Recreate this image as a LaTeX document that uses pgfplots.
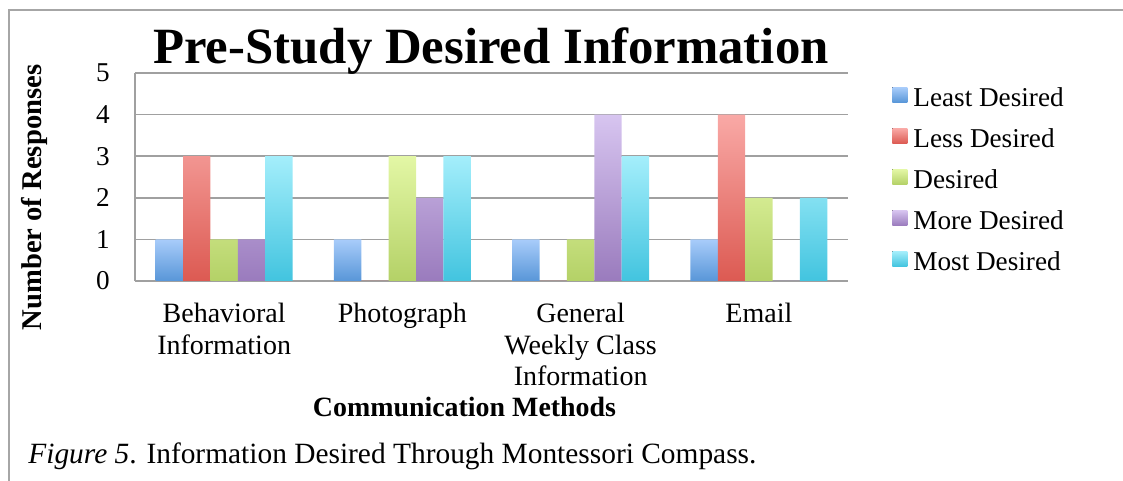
\documentclass[border=0pt]{standalone}
\usepackage{fontspec}
\setmainfont{Liberation Serif}
\usepackage{pgfplots}
\pgfplotsset{compat=1.18}
\definecolor{framegray}{HTML}{A6A6A6}
\definecolor{gridgray}{HTML}{A0A0A0}
\definecolor{bluetop}{HTML}{A8CCFA}\definecolor{bluebot}{HTML}{5896D8}
\definecolor{redtop}{HTML}{F9A9A6}\definecolor{redbot}{HTML}{DC5A52}
\definecolor{greentop}{HTML}{E3F7A5}\definecolor{greenbot}{HTML}{B4D167}
\definecolor{purtop}{HTML}{D7C5F0}\definecolor{purbot}{HTML}{9A7BBD}
\definecolor{cyantop}{HTML}{A4EEFB}\definecolor{cyanbot}{HTML}{42C4DF}
\begin{document}
\begin{tikzpicture}
\useasboundingbox (0,0) rectangle (561.5pt,240.5pt);
\draw[framegray, line width=0.8pt] (4.5pt,0) -- (4.5pt,235.5pt) -- (561.5pt,235.5pt);
\begin{axis}[
  at={(67.5pt,100pt)}, anchor=south west, scale only axis,
  width=356.5pt, height=104pt,
  xmin=-0.5, xmax=3.5, ymin=0, ymax=5,
  ybar=0pt, bar width=13.7pt,
  xtick={0,1,2,3},
  xticklabels={{Behavioral\\Information},{Photograph},{General\\Weekly Class\\Information},{Email}},
  ytick={0,1,2,3,4,5},
  axis x line*=bottom, axis y line*=left,
  axis line style={gridgray, line width=0.75pt, -},
  ymajorgrids, grid style={gridgray, line width=0.75pt},
  major tick length=0pt,
  /pgf/number format/assume math mode=true,
  yticklabel style={font=\fontsize{13.6}{16}\selectfont, anchor=east, inner sep=0pt, xshift=-12.5pt},
  xticklabel style={font=\fontsize{14}{15.75}\selectfont, align=center, anchor=north, inner sep=0pt, yshift=-11pt},
  legend cell align=left,
  legend style={at={(1.0617,0.9327)}, anchor=north west, draw=none, fill=none,
    font=\fontsize{13.6}{16}\selectfont, inner sep=0pt, row sep=8pt, column sep=3pt,
    nodes={inner sep=0pt, text height=9.5pt, text depth=3pt}},
  legend image code/.code={\fill[#1] (0pt,-1.25pt) rectangle (7.5pt,6.25pt);},
]
\addplot[draw=none, top color=bluetop, bottom color=bluebot] coordinates {(0,1) (1,1) (2,1) (3,1)};
\addplot[draw=none, top color=redtop, bottom color=redbot] coordinates {(0,3) (1,0) (2,0) (3,4)};
\addplot[draw=none, top color=greentop, bottom color=greenbot] coordinates {(0,1) (1,3) (2,1) (3,2)};
\addplot[draw=none, top color=purtop, bottom color=purbot] coordinates {(0,1) (1,2) (2,4) (3,0)};
\addplot[draw=none, top color=cyantop, bottom color=cyanbot] coordinates {(0,3) (1,3) (2,3) (3,2)};
\legend{Least Desired, Less Desired, Desired, More Desired, Most Desired}
\end{axis}
\node[anchor=base, font=\bfseries\fontsize{25.4}{28}\selectfont, inner sep=0pt] at (245.5pt,208.5pt) {Pre-Study Desired Information};
\node[anchor=base, rotate=90, font=\bfseries\fontsize{14.3}{16}\selectfont, inner sep=0pt] at (20.85pt,141.75pt) {Number of Responses};
\node[anchor=base, font=\bfseries\fontsize{13.95}{16}\selectfont, inner sep=0pt] at (232.25pt,32pt) {Communication Methods};
\node[anchor=base west, font=\fontsize{14.7}{17}\selectfont, inner sep=0pt] at (14pt,8.5pt) {\textit{Figure 5}. Information Desired Through Montessori Compass.};
\end{tikzpicture}
\end{document}
